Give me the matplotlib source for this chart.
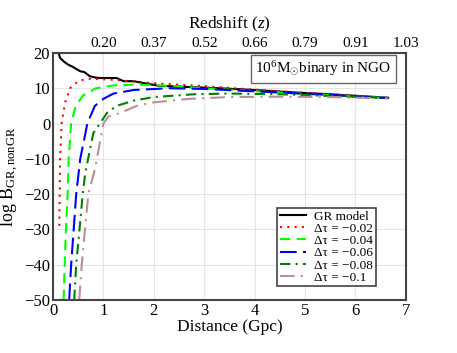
import matplotlib
matplotlib.use("Agg")
from matplotlib import pyplot as plt

plt.rcParams['font.family'] = ['Liberation Serif', 'DejaVu Serif']
plt.rcParams['mathtext.fontset'] = 'custom'
plt.rcParams['mathtext.rm'] = 'Liberation Serif'
plt.rcParams['mathtext.it'] = 'Liberation Serif:italic'

# values
gr_d = [0.10, 0.14, 0.22, 0.30, 0.40, 0.54, 0.62, 0.73, 0.85, 0.93, 1.10, 1.26, 1.40, 1.60, 1.86, 2.1, 2.8, 3.3, 4.0, 4.8, 5.5, 6.2, 6.65]
gr_b = [20.5, 18.6, 17.5, 16.7, 16.0, 14.8, 14.6, 13.4, 13.0, 12.9, 12.9, 12.9, 12.0, 12.0, 11.3, 10.7, 10.3, 10.0, 9.5, 8.8, 8.3, 7.7, 7.3]

r_d = [0.126, 0.14, 0.17, 0.24, 0.34, 0.50, 0.67, 0.9, 1.2, 1.5, 2.0, 2.5, 3.0, 4.0, 5.0, 6.0, 6.65]
r_b = [-29.0, -10.0, 0.0, 6.0, 10.0, 12.0, 12.7, 12.6, 12.4, 12.0, 11.4, 11.0, 10.6, 9.6, 8.7, 7.8, 7.3]

g_d = [0.21, 0.25, 0.29, 0.31, 0.36, 0.45, 0.60, 0.85, 1.2, 1.6, 2.0, 2.5, 3.0, 4.2, 5.2, 6.0, 6.65]
g_b = [-50.0, -32.0, -20.0, -10.0, 0.0, 5.0, 8.0, 10.0, 10.8, 11.0, 10.9, 10.5, 10.0, 9.0, 8.3, 7.7, 7.3]

b_d = [0.32, 0.36, 0.46, 0.54, 0.64, 0.68, 0.83, 1.0, 1.2, 1.6, 2.3, 3.0, 4.2, 5.2, 6.0, 6.65]
b_b = [-50.0, -40.0, -20.0, -10.0, -3.0, 0.0, 5.0, 7.0, 8.5, 9.5, 10.0, 9.8, 9.0, 8.3, 7.7, 7.2]

dg_d = [0.42, 0.46, 0.59, 0.64, 0.80, 0.93, 1.07, 1.26, 1.6, 2.0, 2.8, 3.5, 4.5, 5.5, 6.65]
dg_b = [-50.0, -40.0, -20.0, -14.0, -2.7, 0.0, 3.0, 5.0, 6.5, 7.5, 8.3, 8.5, 8.3, 7.8, 7.3]

br_d = [0.52, 0.57, 0.70, 0.83, 0.87, 1.0, 1.1, 1.33, 1.66, 2.0, 2.7, 3.5, 4.5, 5.5, 6.65]
br_b = [-50.0, -40.0, -20.0, -13.0, -10.0, 0.0, 2.0, 3.0, 5.0, 6.0, 7.0, 7.5, 7.6, 7.5, 7.1]

z_ticks = [1, 2, 3, 4, 5, 6, 7]
z_labels = ['0.20', '0.37', '0.52', '0.66', '0.79', '0.91', '1.03']

fig = plt.figure(figsize=(4.57, 3.53), dpi=100)
ax = fig.add_axes([0.116, 0.150, 0.772, 0.700])

ax.plot(gr_d, gr_b, color='black', lw=1.5, label='GR model')
ax.plot(r_d, r_b, color='red', lw=1.5, ls=(0, (1, 2.5)), label='\u0394\u03c4 = \u22120.02')
ax.plot(g_d, g_b, color='lime', lw=1.5, ls=(0, (5, 3)), label='\u0394\u03c4 = \u22120.04')
ax.plot(b_d, b_b, color='blue', lw=1.5, ls=(0, (8, 3)), label='\u0394\u03c4 = \u22120.06')
ax.plot(dg_d, dg_b, color='green', lw=1.5, ls=(0, (5, 2.5, 1, 2.5)), label='\u0394\u03c4 = \u22120.08')
ax.plot(br_d, br_b, color='rosybrown', lw=1.5, ls=(0, (7, 3, 1, 3)), label='\u0394\u03c4 = \u22120.1')

ax.set_xlim(0, 7)
ax.set_ylim(-50, 20)
ax.set_xticks(range(0, 8))
ax.set_yticks(range(-50, 21, 10))
ax.grid(True, color='#e4e4e4', lw=0.8)
ax.set_axisbelow(True)
ax.tick_params(length=0, labelsize=12, pad=2)
for s in ax.spines.values():
    s.set_color('#444444')
    s.set_linewidth(1.5)

ax.set_xlabel('Distance (Gpc)', fontsize=12.5, labelpad=0)
ax.set_ylabel(r'log B$_{\mathrm{GR,nonGR}}$', fontsize=13, labelpad=2)

top = ax.twiny()
top.set_xlim(0, 7)
top.set_xticks(z_ticks)
top.set_xticklabels(z_labels)
top.tick_params(length=0, labelsize=11, pad=2)
top.set_xlabel(r'Redshift ($z$)', fontsize=12.5, labelpad=6)
for s in top.spines.values():
    s.set_visible(False)

ax.text(0.96, 0.935, r'10$^{6}$M$_{\odot}$binary in NGO', transform=ax.transAxes,
        ha='right', va='center', fontsize=11,
        bbox=dict(boxstyle='square,pad=0.3', fc='white', ec='#666666', lw=1))

leg = ax.legend(loc='lower right', bbox_to_anchor=(0.915, 0.055), fontsize=9.5,
                frameon=True, fancybox=False, framealpha=1, edgecolor='#444444',
                borderpad=0.2, labelspacing=0.0, handlelength=2.0, handletextpad=0.6,
                borderaxespad=0)
leg.get_frame().set_linewidth(1.2)

fig.savefig('out.png', dpi=100)
